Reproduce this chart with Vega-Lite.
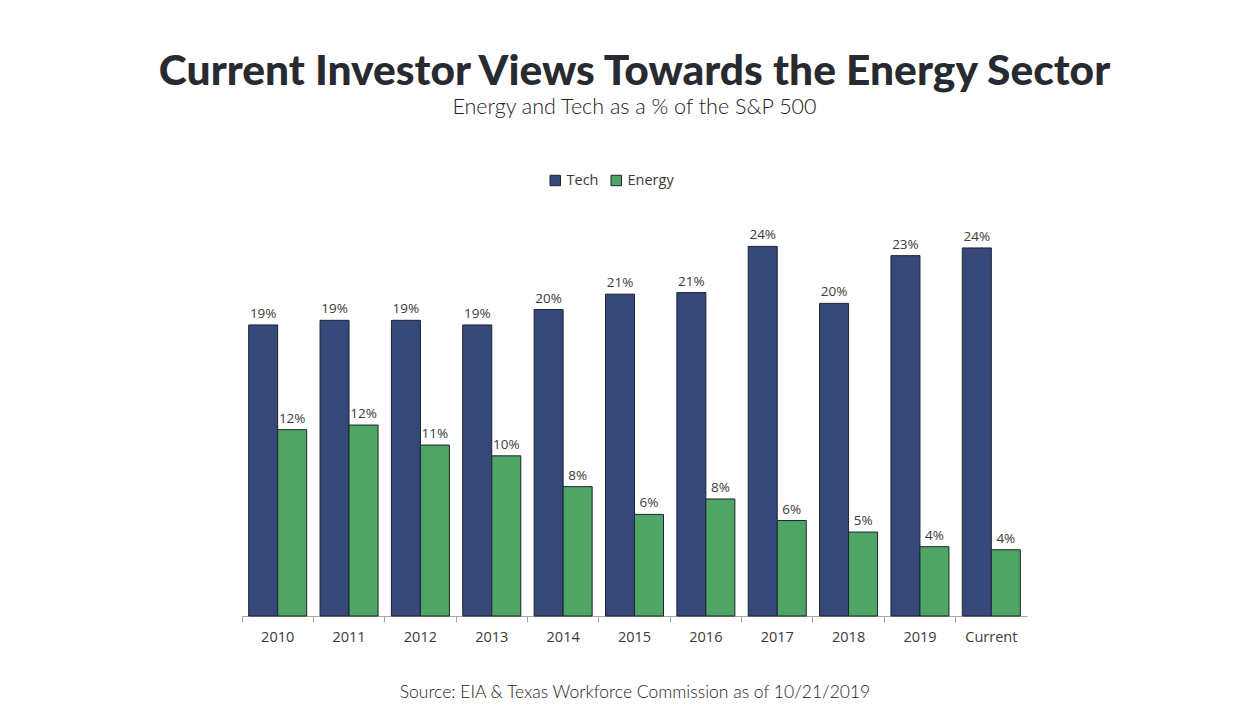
{
  "$schema": "https://vega.github.io/schema/vega-lite/v6.json",
  "width": 785,
  "height": 385,
  "autosize": {"type": "none"},
  "padding": {"left": 242, "top": 231, "right": 222, "bottom": 101},
  "background": "white",
  "title": {
    "text": "Current Investor Views Towards the Energy Sector",
    "subtitle": "Energy and Tech as a % of the S&P 500",
    "anchor": "middle",
    "font": "Lato",
    "fontSize": 42.5,
    "fontWeight": 900,
    "color": "#272b31",
    "subtitleFont": "Lato",
    "subtitleFontSize": 21.5,
    "subtitleFontWeight": 300,
    "subtitleColor": "#222222",
    "subtitlePadding": 3,
    "offset": 55
  },
  "config": {"view": {"stroke": null}},
  "data": {
    "values": [
      {"year": "2010", "series": "Tech", "value": 18.9, "label": "19%"},
      {"year": "2010", "series": "Energy", "value": 12.1, "label": "12%"},
      {"year": "2011", "series": "Tech", "value": 19.2, "label": "19%"},
      {"year": "2011", "series": "Energy", "value": 12.4, "label": "12%"},
      {"year": "2012", "series": "Tech", "value": 19.2, "label": "19%"},
      {"year": "2012", "series": "Energy", "value": 11.1, "label": "11%"},
      {"year": "2013", "series": "Tech", "value": 18.9, "label": "19%"},
      {"year": "2013", "series": "Energy", "value": 10.4, "label": "10%"},
      {"year": "2014", "series": "Tech", "value": 19.9, "label": "20%"},
      {"year": "2014", "series": "Energy", "value": 8.4, "label": "8%"},
      {"year": "2015", "series": "Tech", "value": 20.9, "label": "21%"},
      {"year": "2015", "series": "Energy", "value": 6.6, "label": "6%"},
      {"year": "2016", "series": "Tech", "value": 21.0, "label": "21%"},
      {"year": "2016", "series": "Energy", "value": 7.6, "label": "8%"},
      {"year": "2017", "series": "Tech", "value": 24.0, "label": "24%"},
      {"year": "2017", "series": "Energy", "value": 6.2, "label": "6%"},
      {"year": "2018", "series": "Tech", "value": 20.3, "label": "20%"},
      {"year": "2018", "series": "Energy", "value": 5.45, "label": "5%"},
      {"year": "2019", "series": "Tech", "value": 23.4, "label": "23%"},
      {"year": "2019", "series": "Energy", "value": 4.5, "label": "4%"},
      {"year": "Current", "series": "Tech", "value": 23.9, "label": "24%"},
      {"year": "Current", "series": "Energy", "value": 4.3, "label": "4%"}
    ]
  },
  "encoding": {
    "x": {
      "field": "year",
      "type": "nominal",
      "sort": null,
      "scale": {"paddingInner": 0, "paddingOuter": 0},
      "title": "Source: EIA & Texas Workforce Commission as of 10/21/2019",
      "axis": {
        "labelAngle": 0,
        "bandPosition": 0,
        "labelFont": "Open Sans",
        "labelFontSize": 14.5,
        "labelColor": "#3a3a3a",
        "labelPadding": 8,
        "domainColor": "#a6a6a6",
        "tickColor": "#a6a6a6",
        "tickSize": 6,
        "titleFont": "Lato",
        "titleFontSize": 17.5,
        "titleFontWeight": 300,
        "titleColor": "#222222",
        "titlePadding": 40
      }
    },
    "xOffset": {
      "field": "series",
      "sort": ["Tech", "Energy"],
      "scale": {"paddingOuter": 0.23, "paddingInner": 0}
    },
    "y": {
      "field": "value",
      "type": "quantitative",
      "scale": {"domain": [0, 25]},
      "axis": null
    }
  },
  "layer": [
    {
      "mark": {"type": "bar", "stroke": "#1c2530", "strokeWidth": 1},
      "encoding": {
        "color": {
          "field": "series",
          "type": "nominal",
          "sort": ["Tech", "Energy"],
          "scale": {"domain": ["Tech", "Energy"], "range": ["#36477a", "#4fa664"]},
          "legend": {
            "orient": "none",
            "legendX": 306,
            "legendY": -58,
            "direction": "horizontal",
            "title": null,
            "symbolType": "square",
            "symbolSize": 110,
            "symbolStrokeColor": "#1c2530",
            "symbolStrokeWidth": 1,
            "labelFont": "Open Sans",
            "labelFontSize": 14.5,
            "labelColor": "#3a3a3a",
            "columnPadding": 10,
            "labelOffset": 4
          }
        }
      }
    },
    {
      "mark": {"type": "text", "dy": -11, "font": "Open Sans", "fontSize": 13.5, "color": "#3a3a3a"},
      "encoding": {"text": {"field": "label"}}
    }
  ]
}
